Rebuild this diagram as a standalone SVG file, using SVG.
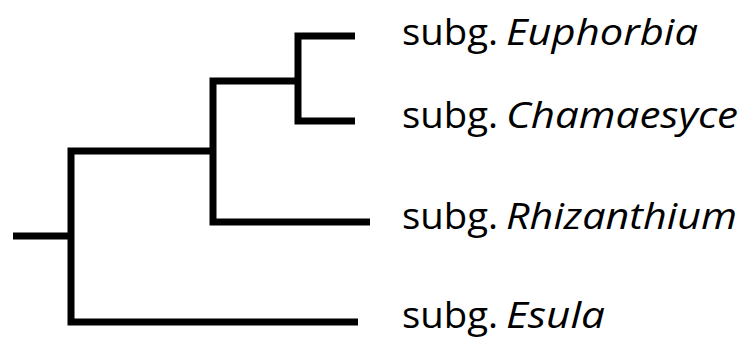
<svg xmlns="http://www.w3.org/2000/svg" width="746" height="338" viewBox="0 0 746 338">
<style>
.br{fill:none;stroke:#000;stroke-width:7;stroke-linejoin:miter;stroke-linecap:butt}
.lbl{font-family:"Open Sans","Noto Sans","Liberation Sans",sans-serif;font-size:37px;fill:#000}
.it{font-style:italic}
</style>
<rect width="746" height="338" fill="#fff"/>
<g id="connectors">
<path class="br" d="M13,236 H71"/>
<path class="br" d="M358,322 H71 V151 H213"/>
<path class="br" d="M370,222 H213 V81 H298"/>
<path class="br" d="M355,36 H298 V121 H355"/>
</g>
<g id="euphorbia"><text class="lbl" y="45"><tspan x="402" textLength="96" lengthAdjust="spacingAndGlyphs">subg.</tspan><tspan class="it" x="506" textLength="192" lengthAdjust="spacingAndGlyphs">Euphorbia</tspan></text></g>
<g id="chamaesyce"><text class="lbl" y="128"><tspan x="402" textLength="96" lengthAdjust="spacingAndGlyphs">subg.</tspan><tspan class="it" x="506" textLength="232" lengthAdjust="spacingAndGlyphs">Chamaesyce</tspan></text></g>
<g id="rhizanthium"><text class="lbl" y="229"><tspan x="402" textLength="96" lengthAdjust="spacingAndGlyphs">subg.</tspan><tspan class="it" x="506" textLength="231" lengthAdjust="spacingAndGlyphs">Rhizanthium</tspan></text></g>
<g id="esula"><text class="lbl" y="328"><tspan x="402" textLength="96" lengthAdjust="spacingAndGlyphs">subg.</tspan><tspan class="it" x="506" textLength="99" lengthAdjust="spacingAndGlyphs">Esula</tspan></text></g>
</svg>
